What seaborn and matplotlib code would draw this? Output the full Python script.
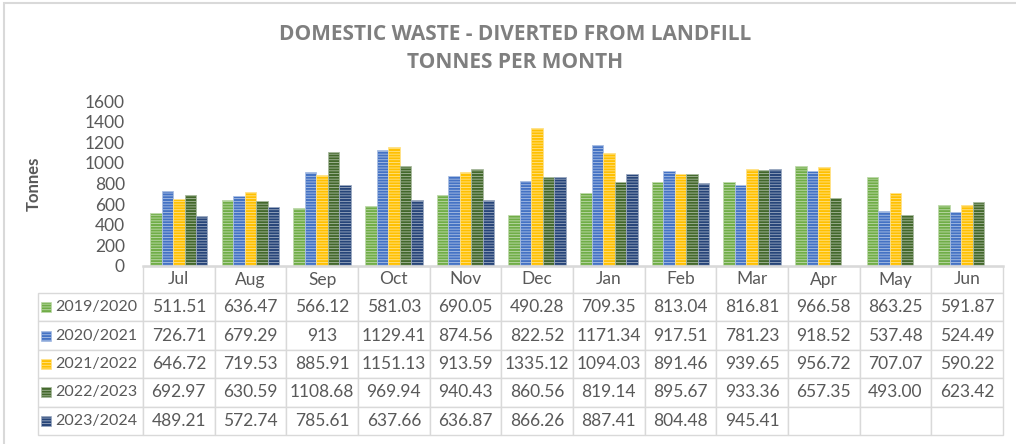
import pandas as pd
import matplotlib.pyplot as plt
import matplotlib.colors as mcolors
from matplotlib.patches import Rectangle
import seaborn as sns

# Data as shown in the chart's data table
months = ["Jul", "Aug", "Sep", "Oct", "Nov", "Dec", "Jan", "Feb", "Mar", "Apr", "May", "Jun"]
seasons = ["2019/2020", "2020/2021", "2021/2022", "2022/2023", "2023/2024"]

v2019 = ["511.51", "636.47", "566.12", "581.03", "690.05", "490.28", "709.35", "813.04", "816.81", "966.58", "863.25", "591.87"]
v2020 = ["726.71", "679.29", "913", "1129.41", "874.56", "822.52", "1171.34", "917.51", "781.23", "918.52", "537.48", "524.49"]
v2021 = ["646.72", "719.53", "885.91", "1151.13", "913.59", "1335.12", "1094.03", "891.46", "939.65", "956.72", "707.07", "590.22"]
v2022 = ["692.97", "630.59", "1108.68", "969.94", "940.43", "860.56", "819.14", "895.67", "933.36", "657.35", "493.00", "623.42"]
v2023 = ["489.21", "572.74", "785.61", "637.66", "636.87", "866.26", "887.41", "804.48", "945.41", "", "", ""]

colors = ["#70ad47", "#4472c4", "#ffc000", "#43682b", "#264478"]

table_rows = [v2019, v2020, v2021, v2022, v2023]

rows = []
for season, vals in zip(seasons, table_rows):
    for m, v in zip(months, vals):
        rows.append({"month": m, "season": season,
                     "tonnes": float(v) if v else float("nan")})
df = pd.DataFrame(rows)

sns.set_style("white")
plt.rcParams["font.family"] = ["Lato", "DejaVu Sans"]
plt.rcParams["hatch.linewidth"] = 0.6
grey = "#595959"
line_grey = "#d9d9d9"

W, H = 1016, 444
fig = plt.figure(figsize=(W / 100, H / 100), dpi=100)
ax_l, ax_r, ax_t, ax_b = 143, 1003, 101, 266
ax = fig.add_axes([ax_l / W, 1 - ax_b / H, (ax_r - ax_l) / W, (ax_b - ax_t) / H])

sns.barplot(data=df, x="month", y="tonnes", hue="season", order=months,
            hue_order=seasons, palette=colors, saturation=1, width=0.8,
            legend=False, ax=ax)


def tint(c, f=0.5):
    r, g, b = mcolors.to_rgb(c)
    return (r + (1 - r) * f, g + (1 - g) * f, b + (1 - b) * f)


for cont, c in zip(ax.containers, colors):
    for bar in cont:
        bar.set_edgecolor(tint(c, 0.55))
        bar.set_linewidth(0.6)
        bar.set_hatch("------")

ax.set_xlim(-0.5, 11.5)
ax.set_ylim(0, 1600)
ax.set_yticks(range(0, 1601, 200))
ax.tick_params(axis="y", length=0, pad=13, labelsize=12.5, labelcolor=grey)
ax.tick_params(axis="x", length=0, labelbottom=False)
ax.set_xlabel("")
ax.set_ylabel("Tonnes", fontsize=12, fontweight="bold", color=grey, labelpad=0)
ax.yaxis.set_label_coords((42 - ax_l) / (ax_r - ax_l), 0.5)
for s in ["left", "right", "top"]:
    ax.spines[s].set_visible(False)
ax.spines["bottom"].set_color(line_grey)
ax.spines["bottom"].set_linewidth(1.8)

# Data table under the plot; first column holds the series names
tab_l, tab_b = 38, 435
aw, ah = ax_r - ax_l, ax_b - ax_t
bbox = [(tab_l - ax_l) / aw, -(tab_b - ax_b) / ah, (ax_r - tab_l) / aw, (tab_b - ax_b) / ah]
cells = [[s] + vals for s, vals in zip(seasons, table_rows)]
tbl = ax.table(cellText=cells, colLabels=[""] + months, cellLoc="center", bbox=bbox)
tbl.auto_set_font_size(False)
tbl.set_fontsize(12.5)
for (r, c), cell in tbl.get_celld().items():
    cell.set_edgecolor(line_grey)
    cell.set_linewidth(1.0)
    cell.get_text().set_color(grey)
    cell.set_width(105 if c == 0 else 71.67)
    cell.set_height(27 if r == 0 else 28.4)
    if c == 0:
        cell._loc = "right"
        cell.get_text().set_horizontalalignment("right")
        cell.get_text().set_fontsize(11.5)
        cell.PAD = 0.05
tbl[0, 0].visible_edges = ""

# legend keys inside the row label cells
for k, c in enumerate(colors):
    yc = 293 + 28.4 * k + 14.2
    ax.add_patch(Rectangle(((41 - ax_l) / aw, (ax_b - yc - 5) / ah), 10 / aw, 10 / ah,
                           transform=ax.transAxes, clip_on=False, zorder=5,
                           facecolor=c, edgecolor=tint(c, 0.55), linewidth=0.5,
                           hatch="------"))

title_kw = dict(ha="center", va="center", fontsize=15, fontweight="bold",
                color="#7f7f7f", family=["Open Sans", "DejaVu Sans"])
fig.text(515 / W, 1 - 34 / H, "DOMESTIC WASTE - DIVERTED FROM LANDFILL", **title_kw)
fig.text(515 / W, 1 - 62 / H, "TONNES PER MONTH", **title_kw)

# chart frame
fig.patches.append(Rectangle((4 / W, -0.1), 1.2, 1.1 - 3 / H, transform=fig.transFigure,
                             fill=False, edgecolor=line_grey, linewidth=1.5))

fig.savefig("out.png", dpi=100)
